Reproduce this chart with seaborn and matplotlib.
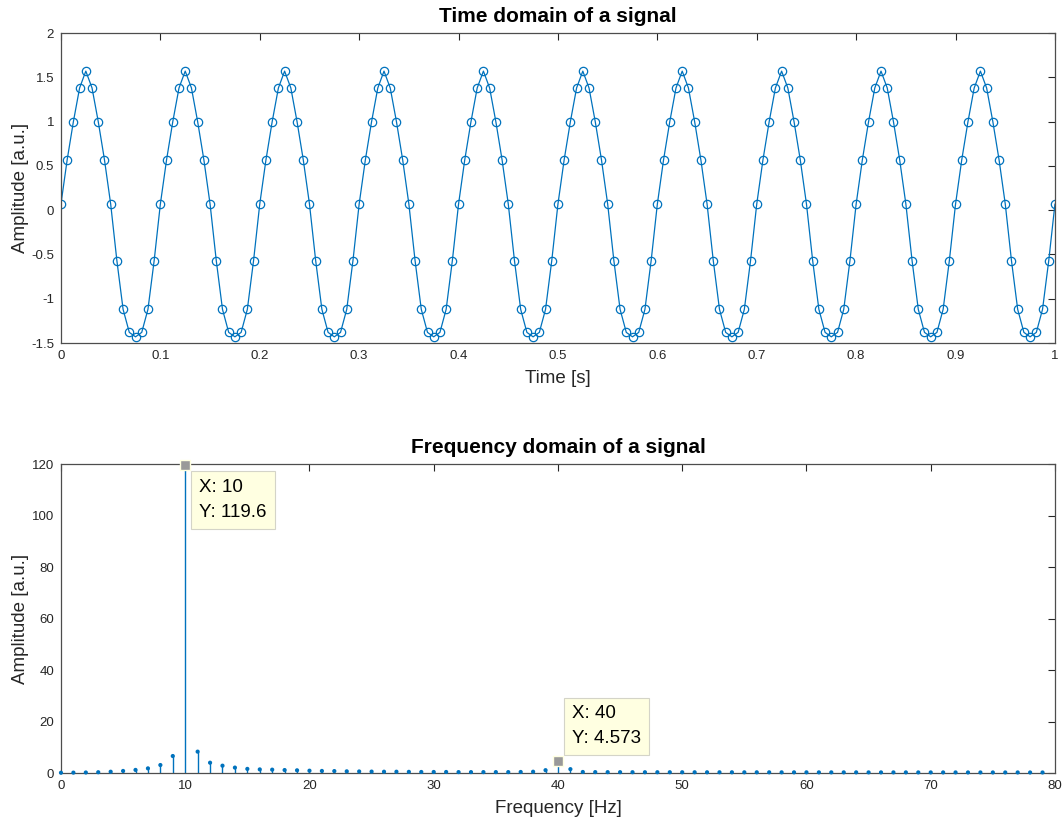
import numpy as np
import pandas as pd
import matplotlib
matplotlib.use("Agg")
import matplotlib.pyplot as plt
import seaborn as sns

# time domain samples (160 samples/s, 0..1 s)
sample_rate = 160
signal = [
    0.07, 0.57, 1.00, 1.38, 1.57, 1.38, 1.00, 0.57, 0.07, -0.57, -1.12, -1.38, -1.43, -1.38, -1.12, -0.57,
    0.07, 0.57, 1.00, 1.38, 1.57, 1.38, 1.00, 0.57, 0.07, -0.57, -1.12, -1.38, -1.43, -1.38, -1.12, -0.57,
    0.07, 0.57, 1.00, 1.38, 1.57, 1.38, 1.00, 0.57, 0.07, -0.57, -1.12, -1.38, -1.43, -1.38, -1.12, -0.57,
    0.07, 0.57, 1.00, 1.38, 1.57, 1.38, 1.00, 0.57, 0.07, -0.57, -1.12, -1.38, -1.43, -1.38, -1.12, -0.57,
    0.07, 0.57, 1.00, 1.38, 1.57, 1.38, 1.00, 0.57, 0.07, -0.57, -1.12, -1.38, -1.43, -1.38, -1.12, -0.57,
    0.07, 0.57, 1.00, 1.38, 1.57, 1.38, 1.00, 0.57, 0.07, -0.57, -1.12, -1.38, -1.43, -1.38, -1.12, -0.57,
    0.07, 0.57, 1.00, 1.38, 1.57, 1.38, 1.00, 0.57, 0.07, -0.57, -1.12, -1.38, -1.43, -1.38, -1.12, -0.57,
    0.07, 0.57, 1.00, 1.38, 1.57, 1.38, 1.00, 0.57, 0.07, -0.57, -1.12, -1.38, -1.43, -1.38, -1.12, -0.57,
    0.07, 0.57, 1.00, 1.38, 1.57, 1.38, 1.00, 0.57, 0.07, -0.57, -1.12, -1.38, -1.43, -1.38, -1.12, -0.57,
    0.07, 0.57, 1.00, 1.38, 1.57, 1.38, 1.00, 0.57, 0.07, -0.57, -1.12, -1.38, -1.43, -1.38, -1.12, -0.57,
    0.07,
]
time = np.arange(len(signal)) / sample_rate

# single sided spectrum, 0..79 Hz
spectrum = [
    0.10, 0.15, 0.20, 0.30, 0.50, 0.80, 1.20, 1.80, 3.10, 6.60,
    119.6, 8.30, 4.00, 2.85, 2.10, 1.60, 1.40, 1.30, 1.15, 1.05,
    0.90, 0.80, 0.75, 0.65, 0.60, 0.55, 0.50, 0.50, 0.45, 0.40,
    0.40, 0.40, 0.35, 0.35, 0.35, 0.35, 0.35, 0.40, 0.50, 1.10,
    4.573, 1.50, 0.40, 0.35, 0.33, 0.32, 0.31, 0.30, 0.30, 0.30,
    0.29, 0.29, 0.28, 0.28, 0.28, 0.27, 0.27, 0.27, 0.26, 0.26,
    0.26, 0.25, 0.25, 0.25, 0.25, 0.24, 0.24, 0.24, 0.24, 0.23,
    0.23, 0.23, 0.23, 0.22, 0.22, 0.22, 0.22, 0.22, 0.21, 0.21,
]
freqs = np.arange(len(spectrum))

# data tips shown on the spectrum
tip_freqs = [10, 40]
tip_values = [119.6, 4.573]

time_df = pd.DataFrame({"t": time, "y": signal})
freq_df = pd.DataFrame({"f": freqs, "a": spectrum})

sns.set_theme(style="white")
plt.rcParams["font.family"] = ["Liberation Sans", "DejaVu Sans"]

BLUE = "#0072BD"
AX_COLOR = "#262626"

fig = plt.figure(figsize=(10.64, 8.22), dpi=100)
ax1 = fig.add_axes([0.0573, 0.5827, 0.9342, 0.3771])
ax2 = fig.add_axes([0.0573, 0.0596, 0.9342, 0.3759])

# top: time domain
sns.lineplot(data=time_df, x="t", y="y", ax=ax1, color=BLUE, lw=0.9,
             marker="o", markersize=6, markerfacecolor="none",
             markeredgecolor=BLUE, markeredgewidth=0.9, sort=False)
ax1.set_xlim(0, 1)
ax1.set_ylim(-1.5, 2)
ax1.set_xticks(np.arange(0, 1.01, 0.1))
ax1.set_yticks(np.arange(-1.5, 2.01, 0.5))
ax1.set_title("Time domain of a signal", fontsize=15, fontweight="bold", pad=8)
ax1.set_xlabel("Time [s]", fontsize=13.5)
ax1.set_ylabel("Amplitude [a.u.]", fontsize=13.5)

# bottom: frequency domain (stem plot)
ax2.vlines(freq_df["f"], 0, freq_df["a"], color=BLUE, lw=1.0)
sns.scatterplot(data=freq_df, x="f", y="a", ax=ax2, color=BLUE, s=9,
                edgecolor="none", clip_on=False, zorder=3)
ax2.set_xlim(0, 80)
ax2.set_ylim(0, 120)
ax2.set_xticks(np.arange(0, 81, 10))
ax2.set_yticks(np.arange(0, 121, 20))
ax2.set_title("Frequency domain of a signal", fontsize=15, fontweight="bold", pad=8)
ax2.set_xlabel("Frequency [Hz]", fontsize=13.5)
ax2.set_ylabel("Amplitude [a.u.]", fontsize=13.5)

# data tips
ax2.scatter(tip_freqs, tip_values, marker="s", s=60, color="#999999",
            edgecolor="#FFFFE1", linewidth=1.0, zorder=7, clip_on=False)
tip_offsets = [(14, -14), (14, 14)]
tip_va = ["top", "bottom"]
for f, v, off, va in zip(tip_freqs, tip_values, tip_offsets, tip_va):
    ax2.annotate(f"X: {f}\nY: {v:g}", xy=(f, v), xytext=off,
                 textcoords="offset pixels", ha="left", va=va,
                 fontsize=13.5, color="black", linespacing=1.6, zorder=6,
                 bbox=dict(boxstyle="square,pad=0.42", fc="#FFFFE1",
                           ec="#D4D4C8", lw=0.8))

fmt = matplotlib.ticker.FormatStrFormatter("%g")
for ax in (ax1, ax2):
    ax.xaxis.set_major_formatter(fmt)
    ax.yaxis.set_major_formatter(fmt)
    ax.tick_params(direction="in", top=True, right=True, length=5, width=0.8,
                   color=AX_COLOR, labelcolor=AX_COLOR, labelsize=9.5, pad=5)
    for sp in ax.spines.values():
        sp.set_visible(True)
        sp.set_color("#4d4d4d")
        sp.set_linewidth(0.9)
    ax.xaxis.label.set_color(AX_COLOR)
    ax.yaxis.label.set_color(AX_COLOR)
    ax.title.set_color("black")
    ax.yaxis.set_label_coords(-0.032, 0.5)
    ax.xaxis.set_label_coords(0.5, -0.088)

fig.savefig("out.png", dpi=100)
